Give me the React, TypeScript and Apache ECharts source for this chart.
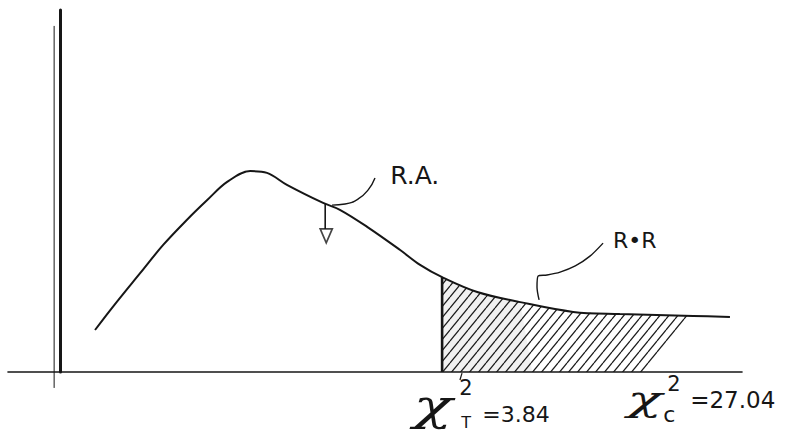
import React, { useEffect, useRef } from "react";
import * as echarts from "echarts";

// Chi-square density sketch (abstract units)
const curveX = [0.66, 1.0, 1.52, 1.96, 2.41, 2.8, 3.18, 3.62, 3.94, 4.32, 5.01, 5.33, 5.85, 6.48, 6.86, 7.28, 7.95, 8.77, 9.78, 10.67, 12.07, 12.77];
const curveY = [1.16, 1.8, 2.73, 3.51, 4.2, 4.75, 5.25, 5.55, 5.5, 5.17, 4.67, 4.48, 4.01, 3.37, 2.96, 2.62, 2.21, 1.93, 1.66, 1.6, 1.55, 1.52];

const criticalX = 7.28; // chi2 table = 3.84
const hatchTopX = 12.07;
const hatchBottomX = 11.19;
const smudgeTopX = 9.4;
const smudgeBottomX = 9.0;

// R.A. arrow (stem from the curve down, head below)
const raStemX = [5.05, 5.05];
const raStemY = [4.67, 3.95];
const raHeadX = [5.07];
const raHeadY = [3.76];
const raLeaderX = [5.18, 5.43, 5.68, 5.87, 6.0];
const raLeaderY = [4.61, 4.64, 4.78, 5.03, 5.36];

// R.R leader
const rrLeaderX = [10.35, 10.1, 9.82, 9.53, 9.28, 9.11, 9.09, 9.13];
const rrLeaderY = [3.56, 3.2, 2.93, 2.76, 2.68, 2.65, 2.35, 1.99];

const thinAxisX = [-0.12, -0.12];
const thinAxisY = [-0.44, 9.56];
const tickMarkX = [7.66, 7.62];
const tickMarkY = [-0.03, -0.22];

const labelRA = "R.A.";
const labelRR = "R\u2022R";
const chiT = { sup: "2", sub: "T", value: "=3.84" };
const chiC = { sup: "2", sub: "c", value: "=27.04" };

const anchorRA = [6.29, 5.44];
const anchorRR = [10.54, 3.62];
const anchorChiT = [6.73, -1.05];
const anchorChiC = [10.81, -0.83];

const zip = (xs: number[], ys: number[]) => xs.map((x, i) => [x, ys[i]]);

function makeHatch(): HTMLCanvasElement {
  const w = 9;
  const h = 11;
  const c = document.createElement("canvas");
  c.width = w;
  c.height = h;
  const ctx = c.getContext("2d")!;
  ctx.strokeStyle = "#1a1a1a";
  ctx.lineWidth = 1.25;
  for (const dx of [-w, 0, w]) {
    ctx.beginPath();
    ctx.moveTo(dx, h);
    ctx.lineTo(dx + w, 0);
    ctx.stroke();
  }
  return c;
}

export default function App() {
  const ref = useRef<HTMLDivElement>(null);
  useEffect(() => {
    if (!ref.current) return;
    const chart = echarts.init(ref.current, undefined, { renderer: "svg" });
    const curve = zip(curveX, curveY);
    const yAtCritical = curveY[curveX.indexOf(criticalX)];
    const hatchData = curve
      .filter(([x]) => x >= criticalX && x <= hatchTopX)
      .concat([[hatchBottomX, 0]]);
    const smudgeData = curve
      .filter(([x]) => x >= criticalX && x <= smudgeTopX)
      .concat([[smudgeBottomX, 0]]);
    const hatch = makeHatch();
    const black = "#161616";
    const thinLine = (data: number[][], width = 1.6, smooth: number | boolean = false) => ({
      type: "line",
      data,
      smooth,
      symbol: "none",
      clip: false,
      silent: true,
      lineStyle: { color: black, width },
    });

    chart.setOption({
      animation: false,
      backgroundColor: "#ffffff",
      grid: { left: 8, right: 43, top: 10, bottom: 62 },
      xAxis: {
        type: "value",
        min: -1,
        max: 13,
        axisLine: { show: true, onZero: true, lineStyle: { color: black, width: 1.6 } },
        axisTick: { show: false },
        axisLabel: { show: false },
        splitLine: { show: false },
      },
      yAxis: {
        type: "value",
        min: 0,
        max: 10,
        axisLine: { show: true, onZero: true, lineStyle: { color: black, width: 3 } },
        axisTick: { show: false },
        axisLabel: { show: false },
        splitLine: { show: false },
      },
      series: [
        {
          type: "line",
          data: smudgeData,
          symbol: "none",
          silent: true,
          lineStyle: { opacity: 0 },
          areaStyle: { color: "rgba(0,0,0,0.08)" },
        },
        {
          type: "line",
          data: hatchData,
          symbol: "none",
          silent: true,
          lineStyle: { opacity: 0 },
          areaStyle: {
            color: { image: hatch, repeat: "repeat", imageWidth: 9, imageHeight: 11 },
            opacity: 1,
          },
        },
        thinLine(curve, 2, 0.35),
        thinLine([[criticalX, 0], [criticalX, yAtCritical]], 2.6),
        thinLine(zip(thinAxisX, thinAxisY), 1),
        thinLine(zip(tickMarkX, tickMarkY), 1.2),
        thinLine(zip(raStemX, raStemY), 1.6),
        thinLine(zip(raLeaderX, raLeaderY), 1.4, true),
        thinLine(zip(rrLeaderX, rrLeaderY), 1.4, 0.3),
        {
          type: "scatter",
          data: zip(raHeadX, raHeadY),
          symbol: "triangle",
          symbolRotate: 180,
          symbolSize: [12, 14],
          silent: true,
          itemStyle: { color: "#ffffff", borderColor: black, borderWidth: 1.8 },
        },
      ],
    });

    const px = (p: number[]) => chart.convertToPixel({ gridIndex: 0 }, p) as number[];
    const sans = "'DejaVu Sans', 'Liberation Sans', sans-serif";
    const serif = "'DejaVu Serif', 'Liberation Serif', serif";
    const txt = (
      x: number,
      y: number,
      text: string,
      size: number,
      family: string,
      style = "normal",
      scaleX = 1
    ) => ({
      type: "text",
      x,
      y,
      scaleX,
      silent: true,
      style: {
        text,
        fill: black,
        fontSize: size,
        fontFamily: family,
        fontStyle: style,
        verticalAlign: "middle",
      },
    });
    const [raX, raY] = px(anchorRA);
    const [rrX, rrY] = px(anchorRR);
    const [tX, tY] = px(anchorChiT);
    const [cX, cY] = px(anchorChiC);
    chart.setOption({
      graphic: [
        txt(raX, raY, labelRA, 25, sans),
        txt(rrX, rrY, labelRR, 22, sans),
        txt(tX, tY - 5, "\u03c7", 43, serif, "italic", 1.5),
        txt(tX + 46, tY - 22, chiT.sup, 21, sans),
        txt(tX + 48, tY + 12, chiT.sub, 16, sans),
        txt(tX + 69, tY + 4, chiT.value, 22, sans),
        txt(cX, cY - 4, "\u03c7", 36, serif, "italic", 1.6),
        txt(cX + 40, cY - 18, chiC.sup, 21, sans),
        txt(cX + 36, cY + 12, chiC.sub, 22, sans),
        txt(cX + 63, cY - 2, chiC.value, 23, sans),
      ],
    });
    return () => chart.dispose();
  }, []);
  return (
    <div
      ref={ref}
      style={{ position: "fixed", left: 0, top: 0, width: 785, height: 434, background: "#fff" }}
    />
  );
}
